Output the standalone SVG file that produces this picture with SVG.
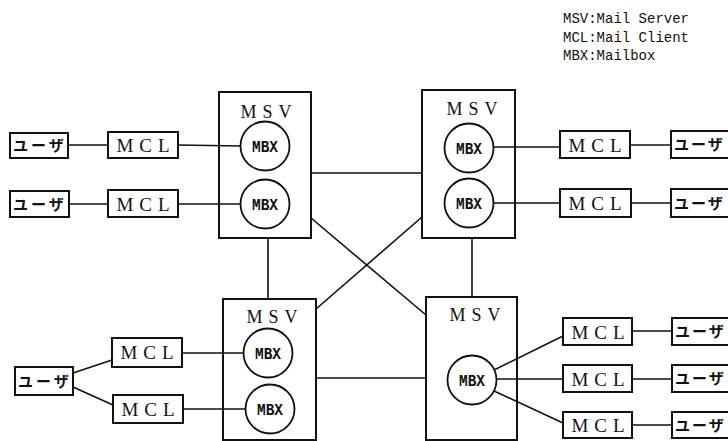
<svg xmlns="http://www.w3.org/2000/svg" width="728" height="441" viewBox="0 0 728 441">
<style>
.box{fill:#fff;stroke:#111;stroke-width:2}
.msv{fill:none;stroke:#111;stroke-width:2}
.mbx{fill:#fff;stroke:#111;stroke-width:1.8}
.ln{stroke:#111;stroke-width:1.6;fill:none}
.mcl{font-family:"Liberation Serif",serif;font-size:19px;letter-spacing:6px;fill:#111}
.msvt{font-family:"Liberation Serif",serif;font-size:18px;letter-spacing:6px;fill:#111}
.user{font-family:"Noto Sans CJK JP",sans-serif;font-size:15px;letter-spacing:3px;fill:#111;font-weight:bold}
.userr{font-family:"Noto Sans CJK JP",sans-serif;font-size:15px;letter-spacing:2px;fill:#111;font-weight:bold}
.mbxt{font-family:"Liberation Mono",monospace;font-size:17px;font-weight:bold;fill:#111}
.leg{font-family:"Liberation Mono",monospace;font-size:14px;fill:#111}
</style>
<rect width="728" height="441" fill="#fff"/>
<g id="legend">
<text class="leg" x="563" y="23">MSV:Mail Server</text>
<text class="leg" x="563" y="42">MCL:Mail Client</text>
<text class="leg" x="563" y="60">MBX:Mailbox</text>
</g>
<g id="connectors">
<line class="ln" x1="68" y1="145" x2="108" y2="145"/>
<line class="ln" x1="178" y1="145" x2="241" y2="146"/>
<line class="ln" x1="69" y1="204" x2="108" y2="204"/>
<line class="ln" x1="178" y1="204" x2="241" y2="204"/>
<line class="ln" x1="493" y1="147" x2="560" y2="147"/>
<line class="ln" x1="630" y1="145" x2="671" y2="145"/>
<line class="ln" x1="493" y1="203" x2="560" y2="203"/>
<line class="ln" x1="631" y1="203" x2="671" y2="203"/>
<line class="ln" x1="73" y1="373" x2="112" y2="360"/>
<line class="ln" x1="73" y1="387" x2="113" y2="405"/>
<line class="ln" x1="182" y1="353" x2="244" y2="353"/>
<line class="ln" x1="183" y1="409" x2="246" y2="409"/>
<line class="ln" x1="494" y1="370" x2="563" y2="336"/>
<line class="ln" x1="496" y1="379" x2="563" y2="379"/>
<line class="ln" x1="494" y1="391" x2="563" y2="423"/>
<line class="ln" x1="632" y1="331" x2="672" y2="331"/>
<line class="ln" x1="632" y1="379" x2="672" y2="379"/>
<line class="ln" x1="632" y1="425" x2="672" y2="425"/>
<line class="ln" x1="311" y1="173" x2="422" y2="173"/>
<line class="ln" x1="316" y1="378" x2="426" y2="378"/>
<line class="ln" x1="268" y1="238" x2="268" y2="299"/>
<line class="ln" x1="472" y1="238" x2="472" y2="297"/>
<line class="ln" x1="311" y1="218" x2="426" y2="315"/>
<line class="ln" x1="422" y1="217" x2="316" y2="309"/>
</g>
<g id="msv-tl">
<rect class="msv" x="219" y="92" width="92" height="146"/>
<text class="msvt" x="269" y="118" text-anchor="middle">MSV</text>
</g>
<g id="msv-tr">
<rect class="msv" x="422" y="90" width="93" height="148"/>
<text class="msvt" x="475" y="115" text-anchor="middle">MSV</text>
</g>
<g id="msv-bl">
<rect class="msv" x="223" y="299" width="93" height="141"/>
<text class="msvt" x="275" y="323" text-anchor="middle">MSV</text>
</g>
<g id="msv-br">
<rect class="msv" x="426" y="297" width="91" height="143"/>
<text class="msvt" x="478" y="321" text-anchor="middle">MSV</text>
</g>
<g id="mbx-tl1"><circle class="mbx" cx="265" cy="146" r="24.5"/><text class="mbxt" x="265" y="152" text-anchor="middle" textLength="26" lengthAdjust="spacingAndGlyphs">MBX</text></g>
<g id="mbx-tl2"><circle class="mbx" cx="265" cy="204" r="24.5"/><text class="mbxt" x="265" y="210" text-anchor="middle" textLength="26" lengthAdjust="spacingAndGlyphs">MBX</text></g>
<g id="mbx-tr1"><circle class="mbx" cx="469" cy="148" r="24.5"/><text class="mbxt" x="469" y="154" text-anchor="middle" textLength="26" lengthAdjust="spacingAndGlyphs">MBX</text></g>
<g id="mbx-tr2"><circle class="mbx" cx="469" cy="203" r="24.5"/><text class="mbxt" x="469" y="209" text-anchor="middle" textLength="26" lengthAdjust="spacingAndGlyphs">MBX</text></g>
<g id="mbx-bl1"><circle class="mbx" cx="268" cy="353" r="24.5"/><text class="mbxt" x="268" y="359" text-anchor="middle" textLength="26" lengthAdjust="spacingAndGlyphs">MBX</text></g>
<g id="mbx-bl2"><circle class="mbx" cx="270" cy="409" r="24.5"/><text class="mbxt" x="270" y="415" text-anchor="middle" textLength="26" lengthAdjust="spacingAndGlyphs">MBX</text></g>
<g id="mbx-br"><circle class="mbx" cx="472" cy="380" r="24.5"/><text class="mbxt" x="472" y="386" text-anchor="middle" textLength="26" lengthAdjust="spacingAndGlyphs">MBX</text></g>
<g id="user-l1"><rect class="box" x="10" y="133" width="58" height="25"/><text class="user" x="13" y="151">ユーザ</text></g>
<g id="mcl-l1"><rect class="box" x="108" y="132" width="70" height="26"/><text class="mcl" x="146" y="152" text-anchor="middle">MCL</text></g>
<g id="user-l2"><rect class="box" x="10" y="191" width="59" height="26"/><text class="user" x="13" y="210">ユーザ</text></g>
<g id="mcl-l2"><rect class="box" x="108" y="190" width="70" height="27"/><text class="mcl" x="146" y="211" text-anchor="middle">MCL</text></g>
<g id="mcl-r1"><rect class="box" x="560" y="131" width="70" height="27"/><text class="mcl" x="598" y="152" text-anchor="middle">MCL</text></g>
<g id="user-r1"><rect class="box" x="671" y="131" width="70" height="27"/><text class="userr" x="674" y="150">ユーザ</text></g>
<g id="mcl-r2"><rect class="box" x="560" y="189" width="71" height="28"/><text class="mcl" x="598" y="210" text-anchor="middle">MCL</text></g>
<g id="user-r2"><rect class="box" x="671" y="189" width="70" height="28"/><text class="userr" x="674" y="209">ユーザ</text></g>
<g id="user-bl"><rect class="box" x="15" y="367" width="58" height="28"/><text class="user" x="18" y="387">ユーザ</text></g>
<g id="mcl-bl1"><rect class="box" x="112" y="338" width="70" height="29"/><text class="mcl" x="150" y="359" text-anchor="middle">MCL</text></g>
<g id="mcl-bl2"><rect class="box" x="113" y="395" width="70" height="28"/><text class="mcl" x="151" y="416" text-anchor="middle">MCL</text></g>
<g id="mcl-br1"><rect class="box" x="563" y="318" width="69" height="27"/><text class="mcl" x="601" y="339" text-anchor="middle">MCL</text></g>
<g id="user-br1"><rect class="box" x="672" y="318" width="70" height="27"/><text class="userr" x="675" y="337">ユーザ</text></g>
<g id="mcl-br2"><rect class="box" x="563" y="365" width="69" height="27"/><text class="mcl" x="601" y="386" text-anchor="middle">MCL</text></g>
<g id="user-br2"><rect class="box" x="672" y="365" width="70" height="27"/><text class="userr" x="675" y="384">ユーザ</text></g>
<g id="mcl-br3"><rect class="box" x="563" y="412" width="69" height="26"/><text class="mcl" x="601" y="432" text-anchor="middle">MCL</text></g>
<g id="user-br3"><rect class="box" x="672" y="412" width="70" height="26"/><text class="userr" x="675" y="431">ユーザ</text></g>
</svg>
